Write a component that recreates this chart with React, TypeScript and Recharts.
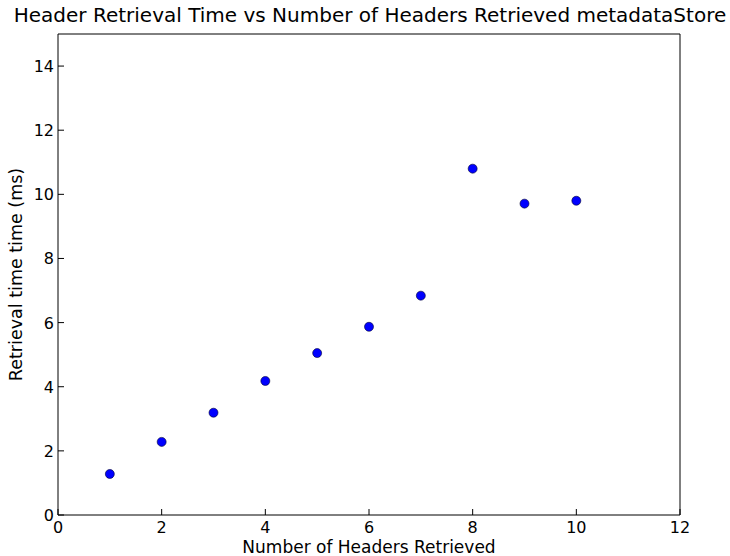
import React from 'react';
import { ScatterChart, Scatter, XAxis, YAxis, Label } from 'recharts';

const headerCounts = [1, 2, 3, 4, 5, 6, 7, 8, 9, 10];
const retrievalMs = [1.28, 2.28, 3.19, 4.18, 5.05, 5.87, 6.84, 10.8, 9.71, 9.8];
const xTicks = [0, 2, 4, 6, 8, 10, 12];
const yTicks = [0, 2, 4, 6, 8, 10, 12, 14];

const data = headerCounts.map((n, i) => ({ n, ms: retrievalMs[i] }));

const FONT = 'DejaVu Sans, sans-serif';

// matplotlib-style ticks: short marks pointing into the plot
const BottomTick = ({ x, y, payload }: any) => (
  <g>
    <line x1={x} y1={y} x2={x} y2={y - 6} stroke="#000" />
    <text x={x} y={y + 18} textAnchor="middle" fontSize={16} fontFamily={FONT} fill="#000">
      {payload.value}
    </text>
  </g>
);

const TopTick = ({ x, y }: any) => <line x1={x} y1={y} x2={x} y2={y + 6} stroke="#000" />;

const LeftTick = ({ x, y, payload }: any) => (
  <g>
    <line x1={x} y1={y} x2={x + 6} y2={y} stroke="#000" />
    <text x={x - 4} y={y + 6} textAnchor="end" fontSize={16} fontFamily={FONT} fill="#000">
      {payload.value}
    </text>
  </g>
);

const RightTick = ({ x, y }: any) => <line x1={x} y1={y} x2={x - 6} y2={y} stroke="#000" />;

const Dot = ({ cx, cy }: any) => (
  <circle cx={cx} cy={cy} r={4.5} fill="#0000ff" stroke="#000033" strokeWidth={0.6} />
);

export default function App() {
  return (
    <div style={{ position: 'absolute', left: 0, top: 0, width: 730, height: 556, background: '#fff', overflow: 'hidden' }}>
      <div
        style={{
          position: 'absolute',
          left: 0,
          width: 740,
          top: 3,
          textAlign: 'center',
          fontFamily: FONT,
          fontSize: 20,
          color: '#000',
          whiteSpace: 'nowrap',
        }}
      >
        Header Retrieval Time vs Number of Headers Retrieved metadataStore
      </div>
      <ScatterChart width={730} height={556} margin={{ top: 33, right: 49, bottom: 0, left: 0 }}>
        <XAxis
          xAxisId="bottom"
          type="number"
          dataKey="n"
          domain={[0, 12]}
          ticks={xTicks}
          height={41}
          tickSize={0}
          tickMargin={0}
          tickLine={false}
          axisLine={{ stroke: '#000' }}
          tick={<BottomTick />}
          interval={0}
        >
          <Label
            value="Number of Headers Retrieved"
            position="insideBottom"
            offset={3}
            style={{ fontFamily: FONT, fontSize: 17, fill: '#000' }}
          />
        </XAxis>
        <XAxis
          xAxisId="top"
          orientation="top"
          type="number"
          dataKey="n"
          domain={[0, 12]}
          ticks={xTicks}
          height={1}
          tickSize={0}
          tickMargin={0}
          tickLine={false}
          axisLine={{ stroke: '#000' }}
          tick={<TopTick />}
          interval={0}
        />
        <YAxis
          yAxisId="left"
          type="number"
          dataKey="ms"
          domain={[0, 15]}
          ticks={yTicks}
          width={58}
          tickSize={0}
          tickMargin={0}
          tickLine={false}
          axisLine={{ stroke: '#000' }}
          tick={<LeftTick />}
          interval={0}
        >
          <Label
            value="Retrieval time time (ms)"
            angle={-90}
            position="insideLeft"
            offset={16}
            style={{ textAnchor: 'middle', fontFamily: FONT, fontSize: 17.5, fill: '#000' }}
          />
        </YAxis>
        <YAxis
          yAxisId="right"
          orientation="right"
          type="number"
          dataKey="ms"
          domain={[0, 15]}
          ticks={yTicks}
          width={1}
          tickSize={0}
          tickMargin={0}
          tickLine={false}
          axisLine={{ stroke: '#000' }}
          tick={<RightTick />}
          interval={0}
        />
        <Scatter
          data={data}
          xAxisId="bottom"
          yAxisId="left"
          shape={<Dot />}
          isAnimationActive={false}
        />
      </ScatterChart>
    </div>
  );
}
